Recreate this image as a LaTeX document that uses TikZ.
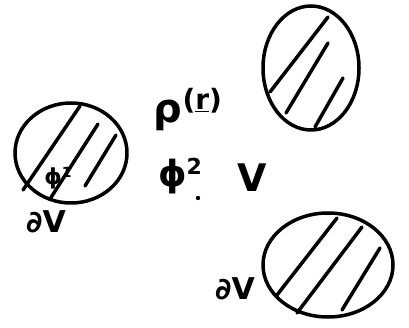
\documentclass[tikz,border=0pt]{standalone}
\usepackage{fontspec}
\setmainfont{DejaVu Sans}
\usepackage{xcolor}
\definecolor{sketchink}{HTML}{000000}

\begin{document}
\begin{tikzpicture}[x=1pt, y=-1pt,
  every node/.style={text=sketchink, inner sep=0pt, font=\bfseries},
  stroke/.style={sketchink, line width=3.5pt, line cap=round, line join=round}]

  \useasboundingbox (0,0) rectangle (409,328);

  % left region
  \draw[stroke] (71,153) ellipse [x radius=56, y radius=50];
  \draw[stroke] (23,190) -- (80,106);
  \draw[stroke] (50,199) -- (98,124);
  \draw[stroke] (85,186) -- (116,135);
  \node (phione) at (58,178) {\fontsize{22}{22}\selectfont ϕ\raisebox{7pt}{\fontsize{14}{14}\selectfont 1}};
  \node (dvleft) at (46,222) {\fontsize{30}{30}\selectfont ∂V};

  % top right region
  \draw[stroke] (311,68) ellipse [x radius=48, y radius=62];
  \draw[stroke] (270,92) -- (328,17);
  \draw[stroke] (286,113) -- (328,43);
  \draw[stroke] (315,127) -- (343,78);

  % bottom right region
  \draw[stroke] (328,265) ellipse [x radius=65, y radius=52];
  \draw[stroke] (277,295) -- (337,218);
  \draw[stroke] (297,313) -- (362,227);
  \draw[stroke] (342,310) -- (380,248);
  \node (dvright) at (235,289) {\fontsize{30}{30}\selectfont ∂V};

  % field labels
  \node (rho) at (188,110) {\fontsize{40}{40}\selectfont ρ\raisebox{13pt}{\fontsize{28}{28}\selectfont(\underline{r})}};
  \node (phitwo) at (180,176) {\fontsize{36}{36}\selectfont ϕ\raisebox{12pt}{\fontsize{22}{22}\selectfont 2}};
  \fill[sketchink] (198,198) circle (2.2);
  \node (vol) at (252,178) {\fontsize{38}{38}\selectfont V};

\end{tikzpicture}
\end{document}
